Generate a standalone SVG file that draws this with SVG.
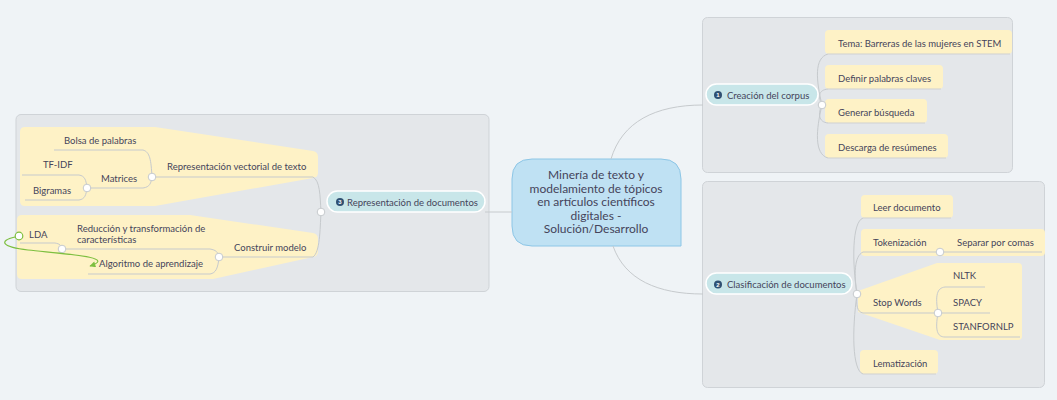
<svg xmlns="http://www.w3.org/2000/svg" width="1057" height="400" viewBox="0 0 1057 400">
<defs>
<style>
.t{font-family:Lato,"Liberation Sans",sans-serif;font-size:9.5px;fill:#45445a}
.ct{font-family:Lato,"Liberation Sans",sans-serif;font-size:12px;fill:#45445a;text-anchor:middle}
.n{font-family:"Liberation Sans",sans-serif;font-size:6px;font-weight:bold;fill:#fff;text-anchor:middle}
.panel{fill:#e4e7ea;stroke:#cfd3d7;stroke-width:1}
.y{fill:#fef2c6}
.ul{stroke:#cfd1d2;stroke-width:1;fill:none}
.c{stroke:#c6cacd;stroke-width:1;fill:none}
.dot{fill:#fff;stroke:#c6cacd;stroke-width:1}
.pill{fill:#c8e6e9;stroke:#fff;stroke-width:1.5}
.num{fill:#2f5072}
</style>
<marker id="ga" viewBox="0 0 10 10" refX="9" refY="5" markerWidth="9" markerHeight="6" orient="auto" markerUnits="userSpaceOnUse">
<path d="M0,0 L10,5 L0,10 Z" fill="#7dbf3f"/>
</marker>
</defs>
<rect x="0" y="0" width="1057" height="400" fill="#eff3f6"/>

<g id="panels">
<rect class="panel" x="16" y="114.5" width="473" height="177" rx="5"/>
<rect class="panel" x="702.5" y="17.5" width="310" height="155" rx="5"/>
<rect class="panel" x="702.5" y="181.5" width="342" height="206" rx="5"/>
</g>

<g id="center">
<path d="M532,159 H661 Q681,159 681,179 V246 H532 Q512,246 512,226 V179 Q512,159 532,159 Z" fill="#bfe1f3" stroke="#8dc6e6" stroke-width="1"/>
<text class="ct" x="596" y="179">Minería de texto y</text>
<text class="ct" x="596" y="192.5">modelamiento de tópicos</text>
<text class="ct" x="596" y="206">en artículos científicos</text>
<text class="ct" x="596" y="219.5">digitales -</text>
<text class="ct" x="596" y="233">Solución/Desarrollo</text>
</g>

<g id="creacion">
<rect class="pill" x="706" y="84" width="112" height="21" rx="10.5"/>
<circle class="num" cx="718" cy="95" r="4"/>
<text class="n" x="718" y="97.2">1</text>
<text class="t" x="727" y="98.5">Creación del corpus</text>
</g>

<g id="tema">
<rect class="y" x="825" y="30" width="187" height="24" rx="4"/>
<line class="ul" x1="828" y1="54" x2="1010" y2="54"/>
<text class="t" x="838" y="46.5">Tema: Barreras de las mujeres en STEM</text>
</g>
<g id="definir">
<rect class="y" x="825" y="65" width="118" height="24" rx="4"/>
<line class="ul" x1="828" y1="89" x2="941" y2="89"/>
<text class="t" x="838" y="81.5">Definir palabras claves</text>
</g>
<g id="generar">
<rect class="y" x="825" y="99" width="102" height="24" rx="4"/>
<line class="ul" x1="828" y1="123" x2="925" y2="123"/>
<text class="t" x="838" y="115.5">Generar búsqueda</text>
</g>
<g id="descarga">
<rect class="y" x="825" y="134" width="123" height="24" rx="4"/>
<line class="ul" x1="828" y1="158" x2="946" y2="158"/>
<text class="t" x="838" y="150.5">Descarga de resúmenes</text>
</g>

<g id="clasificacion">
<rect class="pill" x="706" y="273" width="146" height="21" rx="10.5"/>
<circle class="num" cx="718" cy="284.5" r="4"/>
<text class="n" x="718" y="286.7">2</text>
<text class="t" x="727" y="288">Clasificación de documentos</text>
</g>

<g id="leer">
<rect class="y" x="861" y="195" width="92" height="23" rx="4"/>
<line class="ul" x1="863" y1="218" x2="951" y2="218"/>
<text class="t" x="873" y="210.5">Leer documento</text>
</g>
<g id="tokenizacion">
<rect class="y" x="861" y="229" width="184" height="27" rx="4"/>
<text class="t" x="873" y="245.5">Tokenización</text>
</g>
<g id="separar">
<text class="t" x="957" y="245.5">Separar por comas</text>
</g>
<g id="stopwords">
<path class="y" d="M858,291 L937,263 H1018 Q1022,263 1022,267 V336 Q1022,340 1018,340 H940 L858,312 Z"/>
<text class="t" x="873" y="305.5">Stop Words</text>
</g>
<g id="nltk"><text class="t" x="953" y="278.5">NLTK</text></g>
<g id="spacy"><text class="t" x="953" y="305.5">SPACY</text></g>
<g id="stanfornlp"><text class="t" x="953" y="329.5">STANFORNLP</text></g>
<g id="lematizacion">
<rect class="y" x="860" y="350" width="78" height="24" rx="4"/>
<line class="ul" x1="863" y1="374" x2="936" y2="374"/>
<text class="t" x="873" y="366.5">Lematización</text>
</g>

<g id="representacion">
<rect class="pill" x="327" y="191" width="158" height="21" rx="10.5"/>
<circle class="num" cx="340" cy="202" r="4"/>
<text class="n" x="340" y="204.2">3</text>
<text class="t" x="347" y="205.5">Representación de documentos</text>
</g>

<g id="vectorial">
<path class="y" d="M25,127 H155 L313,151 Q318,152 318,157 V173 Q318,177 313,178 L155,206 H25 Q20,206 20,201 V132 Q20,127 25,127 Z"/>
<text class="t" x="167" y="169.5">Representación vectorial de texto</text>
</g>
<g id="bolsa"><text class="t" x="64" y="143.5">Bolsa de palabras</text></g>
<g id="matrices"><text class="t" x="101" y="181.5">Matrices</text></g>
<g id="tfidf"><text class="t" x="43" y="167.5">TF-IDF</text></g>
<g id="bigramas"><text class="t" x="33" y="193.5">Bigramas</text></g>

<g id="construir">
<path class="y" d="M22,215 H190 L313,233 Q318,234 318,239 V252 Q318,256 313,257 L213,279 H22 Q17,279 17,274 V220 Q17,215 22,215 Z"/>
<text class="t" x="234" y="250.5">Construir modelo</text>
</g>
<g id="reduccion">
<text class="t" x="77" y="231.5">Reducción y transformación de</text>
<text class="t" x="77" y="243">características</text>
</g>
<g id="algoritmo"><text class="t" x="99" y="266.5">Algoritmo de aprendizaje</text></g>
<g id="lda"><text class="t" x="29" y="237.5">LDA</text></g>

<g id="connectors">
<path class="c" d="M611,159 C622,122 655,105 703,105"/>
<path class="c" d="M613,246 C625,280 658,294 703,294"/>
<path class="c" d="M485,212 L512,212"/>
<path class="c" d="M822,105 C816,80 814,58 828,54"/>
<path class="c" d="M822,105 C818,97 818,90 828,89"/>
<path class="c" d="M822,105 C818,113 818,122 828,123"/>
<path class="c" d="M822,105 C816,130 814,154 828,158"/>
<path class="c" d="M857,294 C852,262 852,222 863,218"/>
<path class="c" d="M857,294 C854,275 854,256 863,252 L1042,252"/>
<path class="c" d="M857,294 C856,305 857,312 863,313 L938,313"/>
<path class="c" d="M857,294 C852,330 852,370 863,374"/>
<path class="c" d="M321,212 C320,195 320,181 313,177 L152,177"/>
<path class="c" d="M321,212 C320,230 320,252 313,257 L219,257"/>
<path class="c" d="M152,177 C151,160 150,152 143,150 L54,150"/>
<path class="c" d="M152,177 C151,183 150,187 143,188 L87,188"/>
<path class="c" d="M87,188 C86,180 85,176 79,175 L22,175"/>
<path class="c" d="M87,188 C86,195 85,199 79,200 L25,200"/>
<path class="c" d="M219,257 C218,252 216,250 210,249 L62,249"/>
<path class="c" d="M219,257 C218,268 216,273 210,274 L88,274"/>
<path class="c" d="M62,249 C61,245 60,244 55,243 L20,243"/>
<path class="c" d="M938,313 C935,295 937,288 945,287 L985,287"/>
<path class="c" d="M938,313 L990,313"/>
<path class="c" d="M938,313 C935,330 937,337 945,337 L1020,337"/>
<circle class="dot" cx="822" cy="105" r="3.8"/>
<circle class="dot" cx="857" cy="294" r="3.8"/>
<circle class="dot" cx="940" cy="252" r="3.8"/>
<circle class="dot" cx="938" cy="313" r="3.8"/>
<circle class="dot" cx="321" cy="212" r="3.8"/>
<circle class="dot" cx="152" cy="177" r="3.8"/>
<circle class="dot" cx="87" cy="188" r="3.8"/>
<circle class="dot" cx="219" cy="257" r="3.8"/>
<circle class="dot" cx="62" cy="249" r="3.8"/>
<path d="M15,237 C-2,241 2,247 28,250 C65,254 118,257 90,266" fill="none" stroke="#7dbf3f" stroke-width="1.2" marker-end="url(#ga)"/>
<circle cx="19" cy="236" r="3.8" fill="#fff" stroke="#7dbf3f" stroke-width="1.2"/>
</g>
</svg>
